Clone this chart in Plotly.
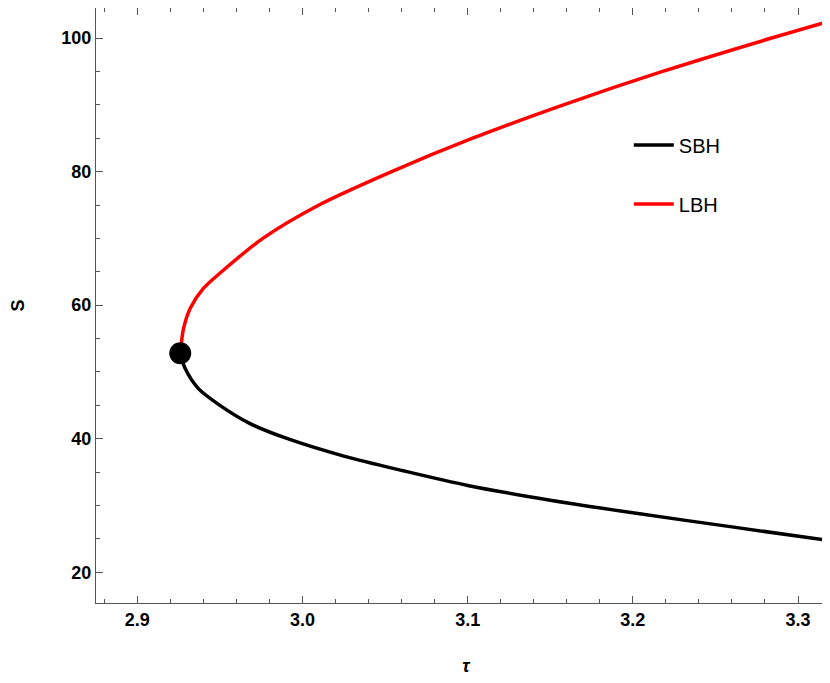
import plotly.graph_objects as go

lbh_tau = [2.926, 2.9265, 2.928, 2.932, 2.940, 2.951, 2.976, 3.010, 3.054, 3.103, 3.158, 3.218, 3.284, 3.323]
lbh_S = [52.8, 54.0, 56.5, 59.5, 62.5, 65.0, 70.0, 75.0, 80.0, 85.0, 90.0, 95.0, 100.0, 102.8]
sbh_tau = [2.926, 2.929, 2.937, 2.950, 2.968, 2.991, 3.025, 3.061, 3.100, 3.150, 3.200, 3.260, 3.323]
sbh_S = [52.8, 50.5, 47.5, 45.0, 42.3, 40.0, 37.4, 35.2, 33.0, 30.8, 28.9, 26.8, 24.6]
crit_tau = [2.926]
crit_S = [52.8]

fig = go.Figure()
fig.add_trace(go.Scatter(x=sbh_tau, y=sbh_S, mode="lines", name="SBH", legendgroup="a",
                         line=dict(color="black", width=3.5, shape="spline", smoothing=0.8)))
fig.add_trace(go.Scatter(x=lbh_tau, y=lbh_S, mode="lines", name="LBH", legendgroup="b",
                         line=dict(color="red", width=3.5, shape="spline", smoothing=0.8)))
fig.add_trace(go.Scatter(x=crit_tau, y=crit_S, mode="markers", showlegend=False,
                         marker=dict(color="black", size=22)))

ax = dict(showline=True, mirror="allticks", linecolor="#555", linewidth=1, automargin=False,
          ticks="inside", ticklen=7, tickcolor="#555", showgrid=False, zeroline=False,
          tickfont=dict(family="Liberation Sans", size=18, color="black", weight="bold"))
fig.update_xaxes(**ax, range=[2.875, 3.323], tickvals=[2.9, 3.0, 3.1, 3.2, 3.3],
                 ticktext=["2.9", "3.0", "3.1", "3.2", "3.3"],
                 minor=dict(ticks="inside", ticklen=4, dtick=0.02, tickcolor="#555"),
                 title=dict(text="<b><i>τ</i></b>", font=dict(family="Liberation Sans", size=18, color="black"), standoff=30))
fig.update_yaxes(**ax, range=[15.4, 104.5], tickvals=[20, 40, 60, 80, 100],
                 minor=dict(ticks="inside", ticklen=4, dtick=5, tickcolor="#555"),
                 title=dict(text="<b>S</b>", font=dict(family="Liberation Sans", size=18, color="black"), standoff=40))
fig.update_layout(width=830, height=683, plot_bgcolor="white", paper_bgcolor="white",
                  margin=dict(l=88, r=2, t=0, b=88),
                  legend=dict(x=0.72, y=0.72, xanchor="left", yanchor="middle",
                              font=dict(family="Liberation Sans", size=20, color="black"),
                              tracegroupgap=30, itemwidth=40, bgcolor="rgba(0,0,0,0)"))
fig.write_html("out.html")
